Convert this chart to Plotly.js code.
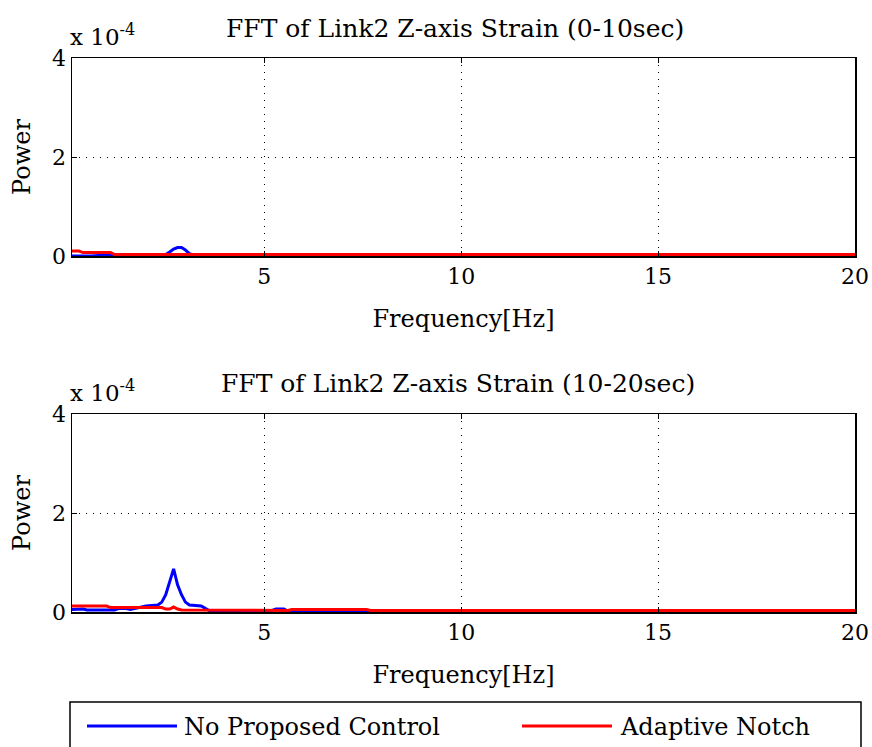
<!DOCTYPE html>
<html>
<head>
<meta charset="utf-8">
<script src="https://cdn.plot.ly/plotly-3.0.1.min.js"></script>
<style>
  html, body { margin: 0; padding: 0; background: #fff; }
  #chart { width: 872px; height: 747px; }
</style>
</head>
<body>
<div id="chart"></div>
<script>
// ---- Data (power values in units of 1e-4) ----
const seriesNames = ["No Proposed Control", "Adaptive Notch"];
const subplotTitles = ["FFT of Link2 Z-axis Strain (0-10sec)", "FFT of Link2 Z-axis Strain (10-20sec)"];
const xTickVals = [5, 10, 15, 20];
const yTickVals = [0, 2, 4];
const yTickText = ["0", "2", "4"];

// Top: 0-10 sec
const freqTopNoCtrl = [0.1, 0.6, 1.0, 2.0, 2.5, 2.6, 2.7, 2.8, 2.9, 3.0, 3.1, 3.2, 5, 10, 15, 20];
const powTopNoCtrl  = [0.0, 0.0, 0.02, 0.02, 0.03, 0.08, 0.14, 0.17, 0.17, 0.12, 0.05, 0.02, 0.02, 0.02, 0.02, 0.02];
const freqTopNotch  = [0.1, 0.3, 0.4, 1.1, 1.2, 2, 5, 10, 15, 20];
const powTopNotch   = [0.1, 0.1, 0.07, 0.07, 0.03, 0.03, 0.03, 0.03, 0.03, 0.03];

// Bottom: 10-20 sec
const freqBotNoCtrl = [0.1, 0.4, 0.5, 1.2, 1.3, 1.5, 1.6, 2.0, 2.3, 2.4, 2.5, 2.6, 2.7, 2.8, 2.9, 3.0, 3.1, 3.4, 3.5, 3.6, 5.2, 5.3, 5.5, 5.6, 6.3, 6.4, 7.5, 7.6, 10, 15, 20];
const powBotNoCtrl  = [0.05, 0.06, 0.04, 0.04, 0.07, 0.07, 0.05, 0.12, 0.14, 0.2, 0.35, 0.6, 0.87, 0.55, 0.35, 0.2, 0.14, 0.12, 0.08, 0.03, 0.03, 0.06, 0.06, 0.02, 0.02, 0.01, 0.01, 0.02, 0.02, 0.02, 0.02];
const freqBotNotch  = [0.1, 1.0, 1.1, 2.4, 2.5, 2.6, 2.7, 2.8, 2.9, 3.5, 5.6, 5.7, 7.6, 7.7, 10, 15, 20];
const powBotNotch   = [0.12, 0.12, 0.09, 0.09, 0.06, 0.06, 0.1, 0.06, 0.04, 0.04, 0.03, 0.05, 0.05, 0.03, 0.03, 0.03, 0.03];

const SCALE = 1e-4;
const scaled = arr => arr.map(v => v * SCALE);

const FONT = "DejaVu Serif";
const W = 872, H = 747;
const px = x => x / W;
const py = y => 1 - y / H;

const blue = "#0000ff", red = "#ff0000";

const traces = [
  { x: freqTopNoCtrl, y: scaled(powTopNoCtrl), xaxis: "x", yaxis: "y", type: "scatter", mode: "lines",
    name: seriesNames[0], line: { color: blue, width: 3 } },
  { x: freqTopNotch, y: scaled(powTopNotch), xaxis: "x", yaxis: "y", type: "scatter", mode: "lines",
    name: seriesNames[1], line: { color: red, width: 3 } },
  { x: freqBotNoCtrl, y: scaled(powBotNoCtrl), xaxis: "x2", yaxis: "y2", type: "scatter", mode: "lines",
    name: seriesNames[0], line: { color: blue, width: 3 } },
  { x: freqBotNotch, y: scaled(powBotNotch), xaxis: "x2", yaxis: "y2", type: "scatter", mode: "lines",
    name: seriesNames[1], line: { color: red, width: 3 } }
];

function xAxis(anchor) {
  return {
    anchor: anchor, domain: [px(72), px(855)], range: [0.12, 20],
    tickvals: xTickVals, ticks: "inside", ticklen: 5, tickcolor: "#000", tickwidth: 1,
    showline: true, linecolor: "#000", linewidth: 1.5, mirror: "ticks",
    showgrid: true, gridcolor: "#000", griddash: "1px,6px", gridwidth: 1, zeroline: false,
    tickfont: { family: FONT, size: 22, color: "#000" },
    title: { text: "Frequency[Hz]", font: { family: FONT, size: 24, color: "#000" }, standoff: 22 },
    fixedrange: true
  };
}
function yAxis(anchor, dom) {
  return {
    anchor: anchor, domain: dom, range: [0, 4 * SCALE],
    tickvals: yTickVals.map(v => v * SCALE), ticktext: yTickText,
    ticks: "inside", ticklen: 5, tickcolor: "#000", tickwidth: 1,
    showline: true, linecolor: "#000", linewidth: 1.5, mirror: "ticks",
    showgrid: true, gridcolor: "#000", griddash: "1px,6px", gridwidth: 1, zeroline: false,
    tickfont: { family: FONT, size: 22, color: "#000" },
    title: { text: "Power", font: { family: FONT, size: 24, color: "#000" }, standoff: 14 },
    fixedrange: true
  };
}

// Legend drawn as box + line samples + labels (paper coordinates)
const legendTextStyle = { family: FONT, size: 24, color: "#000" };
const shapes = [
  { type: "rect", xref: "paper", yref: "paper", x0: px(70), x1: px(861), y0: py(760), y1: py(702),
    line: { color: "#000", width: 1.5 }, fillcolor: "rgba(0,0,0,0)" },
  { type: "line", xref: "paper", yref: "paper", x0: px(87), x1: px(177), y0: py(726), y1: py(726),
    line: { color: blue, width: 3 } },
  { type: "line", xref: "paper", yref: "paper", x0: px(522), x1: px(612), y0: py(726), y1: py(726),
    line: { color: red, width: 3 } }
];

const layout = {
  width: W, height: H,
  margin: { l: 0, r: 0, t: 0, b: 0 },
  paper_bgcolor: "#fff", plot_bgcolor: "#fff",
  font: { family: FONT, color: "#000" },
  xaxis: xAxis("y"),
  yaxis: yAxis("x", [py(256), py(58)]),
  xaxis2: xAxis("y2"),
  yaxis2: yAxis("x2", [py(612), py(414)]),
  showlegend: false,
  shapes: shapes,
  annotations: [
    { text: subplotTitles[0], xref: "paper", yref: "paper", x: px(455), y: py(28),
      xanchor: "center", yanchor: "middle", showarrow: false, font: { family: FONT, size: 25, color: "#000" } },
    { text: subplotTitles[1], xref: "paper", yref: "paper", x: px(458), y: py(383),
      xanchor: "center", yanchor: "middle", showarrow: false, font: { family: FONT, size: 25, color: "#000" } },
    { text: "x 10<sup>-4</sup>", xref: "paper", yref: "paper", x: px(68), y: py(52),
      xanchor: "left", yanchor: "bottom", showarrow: false, font: { family: FONT, size: 23, color: "#000" } },
    { text: "x 10<sup>-4</sup>", xref: "paper", yref: "paper", x: px(68), y: py(408),
      xanchor: "left", yanchor: "bottom", showarrow: false, font: { family: FONT, size: 23, color: "#000" } },
    { text: seriesNames[0], xref: "paper", yref: "paper", x: px(182), y: py(727),
      xanchor: "left", yanchor: "middle", showarrow: false, font: legendTextStyle },
    { text: seriesNames[1], xref: "paper", yref: "paper", x: px(618), y: py(727),
      xanchor: "left", yanchor: "middle", showarrow: false, font: legendTextStyle }
  ]
};

Plotly.newPlot("chart", traces, layout, { displayModeBar: false, staticPlot: true });
</script>
</body>
</html>
